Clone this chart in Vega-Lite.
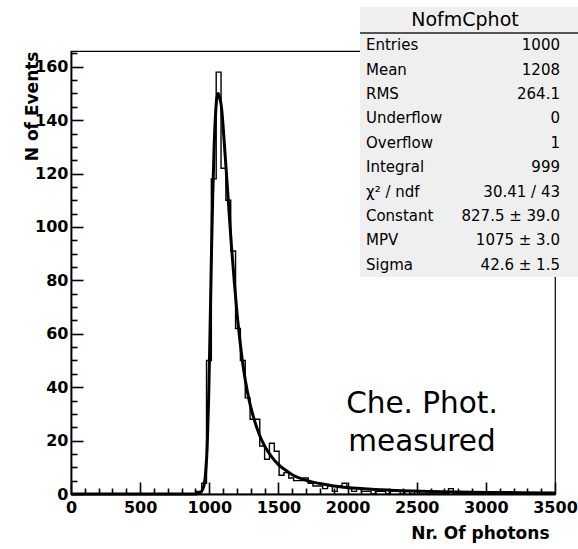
{
  "$schema": "https://vega.github.io/schema/vega-lite/v6.json",
  "width": 484,
  "height": 443,
  "autosize": {"type": "none"},
  "padding": {"left": 71, "top": 51, "right": 23, "bottom": 55},
  "background": "white",
  "config": {"view": {"stroke": "black", "strokeWidth": 1.2}, "font": "DejaVu Sans"},
  "datasets": {
    "hist": [
      {"photons": 17.5, "events": 0}, {"photons": 52.5, "events": 0}, {"photons": 87.5, "events": 0}, {"photons": 122.5, "events": 0}, {"photons": 157.5, "events": 0},
      {"photons": 192.5, "events": 0}, {"photons": 227.5, "events": 0}, {"photons": 262.5, "events": 0}, {"photons": 297.5, "events": 0}, {"photons": 332.5, "events": 0},
      {"photons": 367.5, "events": 0}, {"photons": 402.5, "events": 0}, {"photons": 437.5, "events": 0}, {"photons": 472.5, "events": 0}, {"photons": 507.5, "events": 0},
      {"photons": 542.5, "events": 0}, {"photons": 577.5, "events": 0}, {"photons": 612.5, "events": 0}, {"photons": 647.5, "events": 0}, {"photons": 682.5, "events": 0},
      {"photons": 717.5, "events": 0}, {"photons": 752.5, "events": 0}, {"photons": 787.5, "events": 0}, {"photons": 822.5, "events": 0}, {"photons": 857.5, "events": 0},
      {"photons": 892.5, "events": 0}, {"photons": 927.5, "events": 1}, {"photons": 962.5, "events": 4}, {"photons": 997.5, "events": 50}, {"photons": 1032.5, "events": 118},
      {"photons": 1067.5, "events": 158}, {"photons": 1102.5, "events": 122}, {"photons": 1137.5, "events": 110}, {"photons": 1172.5, "events": 91}, {"photons": 1207.5, "events": 62},
      {"photons": 1242.5, "events": 50}, {"photons": 1277.5, "events": 36}, {"photons": 1312.5, "events": 28}, {"photons": 1347.5, "events": 28}, {"photons": 1382.5, "events": 18},
      {"photons": 1417.5, "events": 13}, {"photons": 1452.5, "events": 19}, {"photons": 1487.5, "events": 16}, {"photons": 1522.5, "events": 7}, {"photons": 1557.5, "events": 8},
      {"photons": 1592.5, "events": 6}, {"photons": 1627.5, "events": 5}, {"photons": 1662.5, "events": 5}, {"photons": 1697.5, "events": 6}, {"photons": 1732.5, "events": 4},
      {"photons": 1767.5, "events": 3}, {"photons": 1802.5, "events": 3}, {"photons": 1837.5, "events": 2}, {"photons": 1872.5, "events": 3}, {"photons": 1907.5, "events": 1},
      {"photons": 1942.5, "events": 3}, {"photons": 1977.5, "events": 4}, {"photons": 2012.5, "events": 2}, {"photons": 2047.5, "events": 1}, {"photons": 2082.5, "events": 2},
      {"photons": 2117.5, "events": 1}, {"photons": 2152.5, "events": 1}, {"photons": 2187.5, "events": 0}, {"photons": 2222.5, "events": 1}, {"photons": 2257.5, "events": 1},
      {"photons": 2292.5, "events": 0}, {"photons": 2327.5, "events": 1}, {"photons": 2362.5, "events": 1}, {"photons": 2397.5, "events": 0}, {"photons": 2432.5, "events": 1},
      {"photons": 2467.5, "events": 0}, {"photons": 2502.5, "events": 1}, {"photons": 2537.5, "events": 0}, {"photons": 2572.5, "events": 0}, {"photons": 2607.5, "events": 0},
      {"photons": 2642.5, "events": 0}, {"photons": 2677.5, "events": 0}, {"photons": 2712.5, "events": 0}, {"photons": 2747.5, "events": 2}, {"photons": 2782.5, "events": 0},
      {"photons": 2817.5, "events": 0}, {"photons": 2852.5, "events": 0}, {"photons": 2887.5, "events": 0}, {"photons": 2922.5, "events": 0}, {"photons": 2957.5, "events": 0},
      {"photons": 2992.5, "events": 0}, {"photons": 3027.5, "events": 0}, {"photons": 3062.5, "events": 0}, {"photons": 3097.5, "events": 0}, {"photons": 3132.5, "events": 0},
      {"photons": 3167.5, "events": 0}, {"photons": 3202.5, "events": 0}, {"photons": 3237.5, "events": 0}, {"photons": 3272.5, "events": 0}, {"photons": 3307.5, "events": 0},
      {"photons": 3342.5, "events": 0}, {"photons": 3377.5, "events": 0}, {"photons": 3412.5, "events": 0}, {"photons": 3447.5, "events": 0}, {"photons": 3482.5, "events": 0}
    ],
    "fit": [
      {"photons": 0, "f": 0}, {"photons": 900, "f": 0}, {"photons": 930, "f": 0.3}, {"photons": 950, "f": 1.5}, {"photons": 965, "f": 4},
      {"photons": 975, "f": 9}, {"photons": 985, "f": 18}, {"photons": 995, "f": 35}, {"photons": 1005, "f": 60}, {"photons": 1015, "f": 88},
      {"photons": 1025, "f": 112}, {"photons": 1035, "f": 130}, {"photons": 1045, "f": 142}, {"photons": 1055, "f": 148.5}, {"photons": 1065, "f": 150},
      {"photons": 1075, "f": 148.5}, {"photons": 1085, "f": 146}, {"photons": 1095, "f": 141}, {"photons": 1105, "f": 134}, {"photons": 1120, "f": 123},
      {"photons": 1140, "f": 108}, {"photons": 1160, "f": 93}, {"photons": 1180, "f": 80}, {"photons": 1200, "f": 68}, {"photons": 1225, "f": 56},
      {"photons": 1250, "f": 46}, {"photons": 1275, "f": 38.5}, {"photons": 1300, "f": 32.5}, {"photons": 1330, "f": 27}, {"photons": 1360, "f": 22.5},
      {"photons": 1400, "f": 18}, {"photons": 1450, "f": 14}, {"photons": 1500, "f": 11}, {"photons": 1550, "f": 9}, {"photons": 1600, "f": 7.2},
      {"photons": 1700, "f": 5.1}, {"photons": 1800, "f": 3.9}, {"photons": 1900, "f": 3.0}, {"photons": 2000, "f": 2.4}, {"photons": 2200, "f": 1.7},
      {"photons": 2400, "f": 1.25}, {"photons": 2600, "f": 0.95}, {"photons": 2800, "f": 0.75}, {"photons": 3000, "f": 0.6}, {"photons": 3250, "f": 0.5},
      {"photons": 3500, "f": 0.4}
    ],
    "stats": [
      {"row": 1, "name": "Entries", "value": "1000"},
      {"row": 2, "name": "Mean", "value": "1208"},
      {"row": 3, "name": "RMS", "value": "264.1"},
      {"row": 4, "name": "Underflow", "value": "0"},
      {"row": 5, "name": "Overflow", "value": "1"},
      {"row": 6, "name": "Integral", "value": "999"},
      {"row": 7, "name": "χ² / ndf", "value": "30.41 / 43"},
      {"row": 8, "name": "Constant", "value": "827.5 ± 39.0"},
      {"row": 9, "name": "MPV", "value": "1075 ± 3.0"},
      {"row": 10, "name": "Sigma", "value": "42.6 ± 1.5"}
    ]
  },
  "layer": [
    {
      "layer": [
        {
          "data": {"name": "hist"},
          "mark": {"type": "line", "interpolate": "step", "color": "black", "strokeWidth": 1.4},
          "encoding": {
            "x": {
              "field": "photons", "type": "quantitative",
              "scale": {"domain": [0, 3500], "nice": false, "zero": false},
              "axis": {
                "values": [0, 500, 1000, 1500, 2000, 2500, 3000, 3500],
                "format": "d",
                "tickSize": -12,
                "tickColor": "black", "tickWidth": 1.6,
                "domainColor": "black", "domainWidth": 1.8,
                "grid": false,
                "labelFont": "DejaVu Sans", "labelFontWeight": "bold", "labelFontSize": 16, "labelColor": "black",
                "labelPadding": 17, "labelFlush": false, "labelOverlap": false,
                "title": "Nr. Of photons", "titleAnchor": "end", "titleAlign": "right", "titleFont": "DejaVu Sans", "titleFontWeight": "bold",
                "titleFontSize": 17, "titleColor": "black", "titleBaseline": "alphabetic", "titleY": 44, "titleX": 478
              }
            },
            "y": {
              "field": "events", "type": "quantitative",
              "scale": {"domain": [0, 165.9], "nice": false},
              "axis": {
                "values": [0, 20, 40, 60, 80, 100, 120, 140, 160],
                "format": "d",
                "tickSize": -12,
                "tickColor": "black", "tickWidth": 1.6,
                "domainColor": "black", "domainWidth": 1.8,
                "grid": false,
                "labelFont": "DejaVu Sans", "labelFontWeight": "bold", "labelFontSize": 16, "labelColor": "black",
                "labelPadding": 15, "labelFlush": false, "labelOverlap": false,
                "title": "N of Events", "titleAnchor": "end", "titleFont": "DejaVu Sans", "titleFontWeight": "bold",
                "titleFontSize": 17, "titleColor": "black", "titleBaseline": "alphabetic", "titleX": -34
              }
            }
          }
        },
        {
          "data": {"name": "fit"},
          "mark": {"type": "line", "interpolate": "monotone", "color": "black", "strokeWidth": 3},
          "encoding": {
            "x": {"field": "photons", "type": "quantitative"},
            "y": {"field": "f", "type": "quantitative"}
          }
        }
      ]
    },
    {
      "data": {"values": [{"note": "Che. Phot.\nmeasured"}]},
      "mark": {"type": "text", "font": "DejaVu Sans", "fontSize": 29.5, "lineBreak": "\n", "lineHeight": 38, "align": "center", "baseline": "middle", "color": "black"},
      "encoding": {
        "x": {
          "datum": 2538, "type": "quantitative",
          "scale": {"domain": [0, 3500], "nice": false, "zero": false},
          "axis": {
            "orient": "bottom",
            "values": [100,200,300,400,600,700,800,900,1100,1200,1300,1400,1600,1700,1800,1900,2100,2200,2300,2400,2600,2700,2800,2900,3100,3200,3300,3400],
            "tickSize": -6, "tickColor": "black", "tickWidth": 1.6,
            "labels": false, "domain": false, "grid": false, "title": null
          }
        },
        "y": {
          "datum": 33.7, "type": "quantitative",
          "scale": {"domain": [0, 165.9], "nice": false},
          "axis": {
            "orient": "left",
            "values": [5,10,15,25,30,35,45,50,55,65,70,75,85,90,95,105,110,115,125,130,135,145,150,155,165],
            "tickSize": -6, "tickColor": "black", "tickWidth": 1.6,
            "labels": false, "domain": false, "grid": false, "title": null
          }
        },
        "text": {"field": "note"}
      }
    },
    {
      "layer": [
        {
          "data": {"values": [{"box": "NofmCphot"}]},
          "mark": {"type": "rect", "fill": "#efefef", "strokeWidth": 0},
          "encoding": {
            "x": {"datum": 2090, "type": "quantitative", "scale": {"domain": [0, 3500], "nice": false, "zero": false}, "axis": null},
            "x2": {"datum": 3720},
            "y": {"datum": -0.566, "type": "quantitative", "scale": {"domain": [1.2377, 19.393], "reverse": true, "nice": false, "zero": false}, "axis": null},
            "y2": {"datum": 10.5}
          }
        },
        {
          "data": {"values": [{"box": "NofmCphot"}]},
          "mark": {"type": "rule", "color": "#222222", "strokeWidth": 1.5},
          "encoding": {
            "x": {"datum": 2090, "type": "quantitative"},
            "x2": {"datum": 3720},
            "y": {"datum": 0.5, "type": "quantitative"}
          }
        },
        {
          "data": {"values": [{"box": "NofmCphot"}]},
          "mark": {"type": "text", "font": "DejaVu Sans", "fontSize": 19, "align": "center", "baseline": "middle", "color": "black"},
          "encoding": {
            "x": {"datum": 2849, "type": "quantitative"},
            "y": {"datum": -0.03, "type": "quantitative"},
            "text": {"field": "box"}
          }
        },
        {
          "data": {"name": "stats"},
          "mark": {"type": "text", "font": "DejaVu Sans", "fontSize": 15, "align": "left", "baseline": "middle", "color": "black"},
          "encoding": {
            "x": {"datum": 2133, "type": "quantitative"},
            "y": {"field": "row", "type": "quantitative"},
            "text": {"field": "name"}
          }
        },
        {
          "data": {"name": "stats"},
          "mark": {"type": "text", "font": "DejaVu Sans", "fontSize": 15, "align": "right", "baseline": "middle", "color": "black"},
          "encoding": {
            "x": {"datum": 3536, "type": "quantitative"},
            "y": {"field": "row", "type": "quantitative"},
            "text": {"field": "value"}
          }
        }
      ]
    }
  ],
  "resolve": {"scale": {"x": "independent", "y": "independent"}}
}
